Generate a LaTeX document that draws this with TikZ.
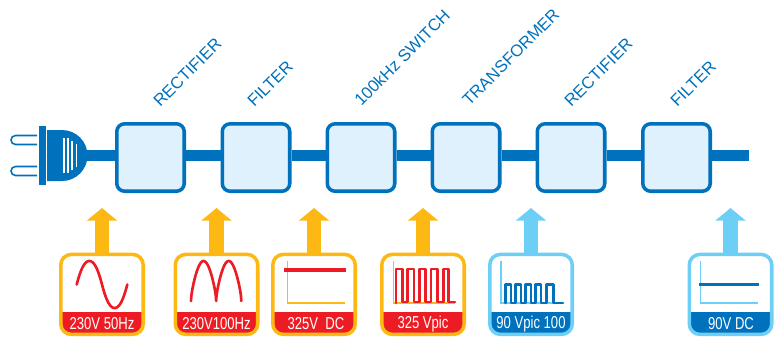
\documentclass[tikz,border=0pt]{standalone}
\usepackage{fontspec}
\setmainfont{Liberation Sans}
\newfontfamily\bandfont[FakeStretch=0.76]{Liberation Sans}
\usetikzlibrary{arrows.meta,positioning}
\definecolor{busblue}{RGB}{0,113,188}
\definecolor{boxfill}{RGB}{223,241,252}
\definecolor{skyblue}{RGB}{110,207,246}
\definecolor{amber}{RGB}{254,184,20}
\definecolor{sigred}{RGB}{237,28,36}
\tikzset{
  stage/.style={draw=busblue,fill=boxfill,line width=2pt,rounded corners=4.5pt,minimum size=1.35cm,inner sep=0pt},
  bus/.style={busblue,line width=6.2pt},
  stagelabel/.style={busblue,font=\fontsize{9.5}{12}\selectfont,rotate=45,anchor=base west,inner sep=0pt},
  sigbox/.style 2 args={draw=#1,fill=white,line width=2pt,rounded corners=6pt,minimum width=1.65cm,minimum height=1.6cm,inner sep=0pt,
    path picture={\fill[#2,sharp corners] (path picture bounding box.south west) ++(0,-22) rectangle (path picture bounding box.south east);}},
  bandtext/.style={white,font=\bandfont\fontsize{9.8}{11}\selectfont,inner sep=0pt},
  feed/.style={line width=8.3pt,-{Triangle[length=7.2pt,width=17pt]}},
  axis/.style={line width=0.9pt},
  wave/.style={line width=1.5pt,line cap=round,line join=round}
}
\begin{document}
\begin{tikzpicture}[x=0.02cm,y=-0.02cm]
\useasboundingbox (0,0) rectangle (780,336);
% plug
\draw[busblue,line width=0.9pt] (37,135.5) -- (15.5,135.5) arc (-90:-270:4.5) -- (37,144.5);
\draw[busblue,line width=0.9pt] (37,166.5) -- (15.5,166.5) arc (-90:-270:4.5) -- (37,175.5);
\fill[busblue] (38.5,126) rectangle (45.5,185);
\fill[busblue] (47,130) -- (62,130) arc (-90:90:25.5) -- (47,181) -- cycle;
\coordinate (plugnose) at (87,155.5);
\draw[white,line width=1pt] (64,138) -- (64,173);
\draw[white,line width=1pt] (68,138) -- (68,173);
\draw[white,line width=1pt] (72,141) -- (72,170);
\draw[white,line width=1pt] (76.5,143.5) -- (76.5,167);
% stages
\node[stage] (st1) at (150.5,157.5) {};
\node[stage] (st2) at (256,157.5) {};
\node[stage] (st3) at (361,157.5) {};
\node[stage] (st4) at (466,157.5) {};
\node[stage] (st5) at (571,157.5) {};
\node[stage] (st6) at (676.5,157.5) {};
\coordinate (busend) at (749,155.5);
\draw[bus] (plugnose) -- (st1.west |- plugnose);
\draw[bus] (st1.east |- plugnose) -- (st2.west |- plugnose);
\draw[bus] (st2.east |- plugnose) -- (st3.west |- plugnose);
\draw[bus] (st3.east |- plugnose) -- (st4.west |- plugnose);
\draw[bus] (st4.east |- plugnose) -- (st5.west |- plugnose);
\draw[bus] (st5.east |- plugnose) -- (st6.west |- plugnose);
\draw[bus] (st6.east |- plugnose) -- (busend);
% stage names
\node[stagelabel] (name1) at (160,108) {RECTIFIER};
\node[stagelabel] (name2) at (254,108) {FILTER};
\node[stagelabel] (name3) at (361,107) {100kHz SWITCH};
\node[stagelabel] (name4) at (469,107) {TRANSFORMER};
\node[stagelabel] (name5) at (571,108) {RECTIFIER};
\node[stagelabel] (name6) at (677,108) {FILTER};
% signal boxes
\node[sigbox={amber}{sigred}] (sig1) at (102,294.4) {};
\node[sigbox={amber}{sigred}] (sig2) at (216.5,294.4) {};
\node[sigbox={amber}{sigred}] (sig3) at (314,294.4) {};
\node[sigbox={amber}{sigred}] (sig4) at (423,294.4) {};
\node[sigbox={skyblue}{busblue}] (sig5) at (531,294.4) {};
\node[sigbox={skyblue}{busblue}] (sig6) at (730.5,294.4) {};
\node[bandtext] (txt1) at (102,324) {230V 50Hz};
\node[bandtext] (txt2) at (216.5,324) {230V100Hz};
\node[bandtext] (txt3) at (316,324) {325V\ \ DC};
\node[bandtext] (txt4) at (423,324) {325 Vpic};
\node[bandtext] (txt5) at (531,324) {90 Vpic 100};
\node[bandtext] (txt6) at (731,324) {90V DC};
% feed arrows
\coordinate (tip1) at (102,208);
\coordinate (tip2) at (216.5,208);
\coordinate (tip3) at (314,208);
\coordinate (tip4) at (423,208);
\coordinate (tip5) at (531,208);
\coordinate (tip6) at (730.5,208);
\draw[feed,amber] (sig1.north) -- (tip1);
\draw[feed,amber] (sig2.north) -- (tip2);
\draw[feed,amber] (sig3.north) -- (tip3);
\draw[feed,amber] (sig4.north) -- (tip4);
\draw[feed,skyblue] (sig5.north) -- (tip5);
\draw[feed,skyblue] (sig6.north) -- (tip6);
% waveforms
\draw[wave,sigred] plot[domain=0:360,samples=91,smooth] ({76.7+\x/360*50.6},{284.5-23.5*sin(\x)*(1.3-0.3*abs(sin(\x)))});
\draw[wave,sigred] plot[domain=0:360,samples=145] ({191+\x/360*50.3},{301-40*(abs(sin(\x))+sqrt(abs(sin(\x))))/2});
\draw[axis,amber] (287.7,261) -- (287.7,303) -- (345,303);
\draw[sigred,line width=2pt] (284,270) -- (346,270);
\draw[axis,amber] (393.3,261) -- (393.3,303) -- (455,303);
\draw[wave,sigred] (396,303) -- (396,269) -- (402.3,269) -- (402.3,302) -- (407.7,302) -- (407.7,269) -- (414,269) -- (414,302) -- (419.3,302) -- (419.3,269) -- (425.7,269) -- (425.7,302) -- (431,302) -- (431,269) -- (437.7,269) -- (437.7,302) -- (443.3,302) -- (443.3,269) -- (448.3,269) -- (448.3,302) -- (455,302);
\draw[axis,skyblue] (501,261) -- (501,303) -- (563,303);
\draw[wave,busblue] (505.5,303) -- (505.5,284.5) -- (511,284.5) -- (511,303) -- (515.5,303) -- (515.5,284.5) -- (521,284.5) -- (521,303) -- (525.5,303) -- (525.5,284.5) -- (531,284.5) -- (531,303) -- (535.5,303) -- (535.5,284.5) -- (541,284.5) -- (541,303) -- (546.5,303) -- (546.5,284.5) -- (553.5,284.5) -- (553.5,303) -- (563,303);
\draw[axis,skyblue] (700.5,261) -- (700.5,303) -- (758,303);
\draw[busblue,line width=1.9pt] (699,284.5) -- (759,284.5);
\end{tikzpicture}
\end{document}
